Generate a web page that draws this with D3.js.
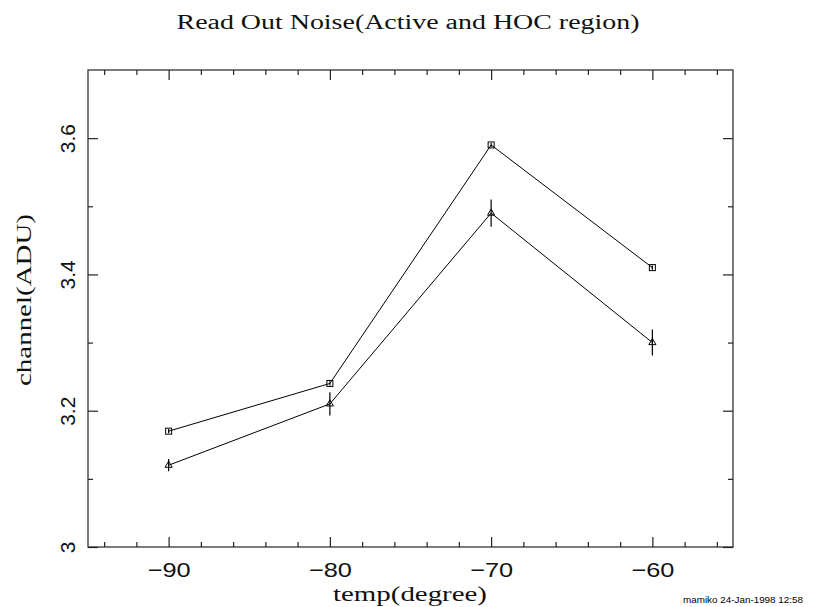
<!DOCTYPE html>
<html>
<head>
<meta charset="utf-8">
<script src="https://cdn.jsdelivr.net/npm/d3@7"></script>
<style>
  html, body { margin: 0; padding: 0; background: #fff; }
  svg { display: block; }
</style>
</head>
<body>
<script>
// Read-out noise measured at each temperature
const temps = [-90, -80, -70, -60];
const activeNoise = [3.17, 3.24, 3.59, 3.41];
const activeErr = [0.003, 0.003, 0.003, 0.003];
const hocNoise = [3.12, 3.21, 3.49, 3.30];
const hocErr = [0.009, 0.017, 0.02, 0.019];

const xMajorTicks = [-90, -80, -70, -60];
const xMinorTicks = [-94, -92, -88, -86, -84, -82, -78, -76, -74, -72, -68, -66, -64, -62, -58, -56];
const yMajorTicks = [3.0, 3.2, 3.4, 3.6];
const yMinorTicks = [3.1, 3.3, 3.5];

const W = 813, H = 607;
const plotLeft = 88, plotRight = 733, plotTop = 70, plotBottom = 547;

const svg = d3.select("body").append("svg").attr("width", W).attr("height", H);

const x = d3.scaleLinear().domain([-95, -55]).range([plotLeft, plotRight]);
const y = d3.scaleLinear().domain([3.0, 3.7]).range([plotBottom, plotTop]);

const serif = "'Liberation Serif', 'DejaVu Serif', serif";
const sans = "'Liberation Sans', 'DejaVu Sans', sans-serif";

// Frame
svg.append("rect")
  .attr("x", plotLeft).attr("y", plotTop)
  .attr("width", plotRight - plotLeft).attr("height", plotBottom - plotTop)
  .attr("fill", "none").attr("stroke", "#333").attr("stroke-width", 1.3);

function styleAxis(g) {
  g.select(".domain").remove();
  g.selectAll(".tick line").attr("stroke", "#222").attr("stroke-width", 1.2);
}

// Major and minor ticks on all four sides, pointing inward
const majorLen = 10, minorLen = 5;
svg.append("g").attr("transform", `translate(0,${plotBottom})`)
  .call(d3.axisBottom(x).tickValues(xMajorTicks).tickSize(-majorLen).tickPadding(15)
    .tickFormat(d3.format("d")))
  .call(styleAxis)
  .call(g => g.selectAll("text")
    .attr("font-family", sans).attr("font-size", 21).attr("fill", "#111")
    .attr("textLength", 43).attr("lengthAdjust", "spacingAndGlyphs"));
svg.append("g").attr("transform", `translate(0,${plotBottom})`)
  .call(d3.axisBottom(x).tickValues(xMinorTicks).tickSize(-minorLen).tickFormat(""))
  .call(styleAxis);
svg.append("g").attr("transform", `translate(0,${plotTop})`)
  .call(d3.axisTop(x).tickValues(xMajorTicks).tickSize(-majorLen).tickFormat(""))
  .call(styleAxis);
svg.append("g").attr("transform", `translate(0,${plotTop})`)
  .call(d3.axisTop(x).tickValues(xMinorTicks).tickSize(-minorLen).tickFormat(""))
  .call(styleAxis);

svg.append("g").attr("transform", `translate(${plotLeft},0)`)
  .call(d3.axisLeft(y).tickValues(yMajorTicks).tickSize(-majorLen)
    .tickFormat(d => d === 3 ? "3" : d3.format(".1f")(d)))
  .call(styleAxis)
  .call(g => g.selectAll("text")
    .attr("x", null).attr("dy", null)
    .attr("transform", "translate(-13,0) rotate(-90)")
    .attr("text-anchor", "middle")
    .attr("font-family", sans).attr("font-size", 21).attr("fill", "#111"));
svg.append("g").attr("transform", `translate(${plotLeft},0)`)
  .call(d3.axisLeft(y).tickValues(yMinorTicks).tickSize(-minorLen).tickFormat(""))
  .call(styleAxis);
svg.append("g").attr("transform", `translate(${plotRight},0)`)
  .call(d3.axisRight(y).tickValues(yMajorTicks).tickSize(-majorLen).tickFormat(""))
  .call(styleAxis);
svg.append("g").attr("transform", `translate(${plotRight},0)`)
  .call(d3.axisRight(y).tickValues(yMinorTicks).tickSize(-minorLen).tickFormat(""))
  .call(styleAxis);

// Series
const active = temps.map((t, i) => ({ t, v: activeNoise[i], e: activeErr[i] }));
const hoc = temps.map((t, i) => ({ t, v: hocNoise[i], e: hocErr[i] }));

const line = d3.line().x(d => x(d.t)).y(d => y(d.v));

[active, hoc].forEach(series => {
  svg.append("path").datum(series).attr("d", line)
    .attr("fill", "none").attr("stroke", "#000").attr("stroke-width", 1);
  svg.append("g").selectAll("line").data(series).join("line")
    .attr("x1", d => x(d.t)).attr("x2", d => x(d.t))
    .attr("y1", d => y(d.v - d.e)).attr("y2", d => y(d.v + d.e))
    .attr("stroke", "#000").attr("stroke-width", 1.2);
});

// Square markers
svg.append("g").selectAll("rect").data(active).join("rect")
  .attr("x", d => x(d.t) - 3).attr("y", d => y(d.v) - 3)
  .attr("width", 6).attr("height", 6)
  .attr("fill", "none").attr("stroke", "#000").attr("stroke-width", 1);

// Triangle markers
const tri = d3.symbol().type(d3.symbolTriangle).size(22);
svg.append("g").selectAll("path").data(hoc).join("path")
  .attr("d", tri)
  .attr("transform", d => `translate(${x(d.t)},${y(d.v)})`)
  .attr("fill", "none").attr("stroke", "#000").attr("stroke-width", 1);

// Titles
svg.append("text")
  .attr("x", 408).attr("y", 29).attr("text-anchor", "middle")
  .attr("font-family", serif).attr("font-size", 20).attr("fill", "#111")
  .attr("textLength", 463).attr("lengthAdjust", "spacingAndGlyphs")
  .text("Read Out Noise(Active and HOC region)");

svg.append("text")
  .attr("x", 410).attr("y", 601).attr("text-anchor", "middle")
  .attr("font-family", serif).attr("font-size", 22).attr("fill", "#111")
  .attr("textLength", 154).attr("lengthAdjust", "spacingAndGlyphs")
  .text("temp(degree)");

svg.append("text")
  .attr("transform", "translate(31,300) rotate(-90)").attr("text-anchor", "middle")
  .attr("font-family", serif).attr("font-size", 22).attr("fill", "#111")
  .attr("textLength", 172).attr("lengthAdjust", "spacingAndGlyphs")
  .text("channel(ADU)");

svg.append("text")
  .attr("x", 683).attr("y", 603)
  .attr("font-family", sans).attr("font-size", 8.5)
  .attr("textLength", 120).attr("lengthAdjust", "spacingAndGlyphs")
  .text("mamiko 24-Jan-1998 12:58");
</script>
</body>
</html>
